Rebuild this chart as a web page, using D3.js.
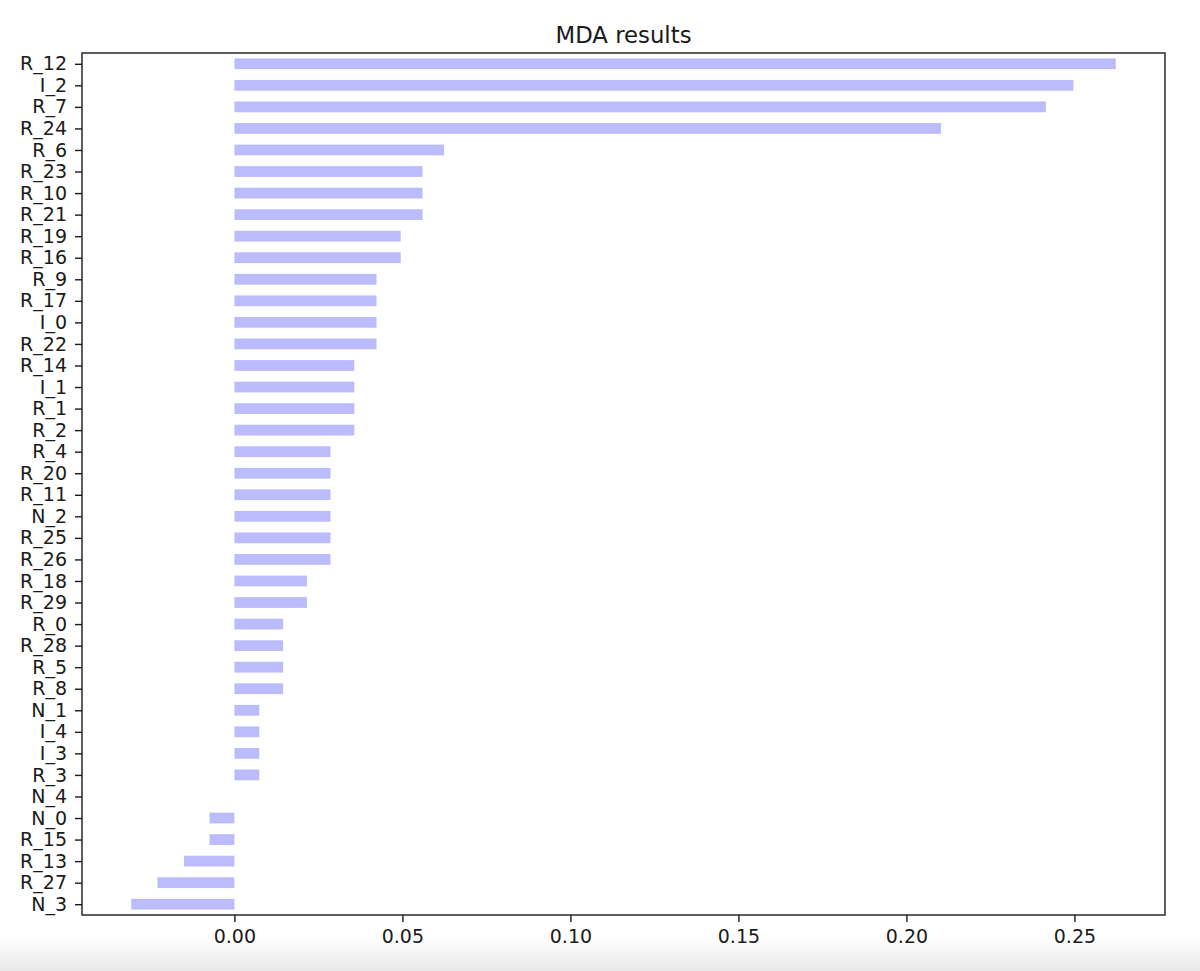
<!DOCTYPE html>
<html>
<head>
<meta charset="utf-8">
<script src="https://cdn.jsdelivr.net/npm/d3@7"></script>
<style>
  html, body { margin: 0; padding: 0; background: #fff; }
  svg { display: block; }
  text { font-family: "DejaVu Sans", sans-serif; fill: #1a1a1a; }
</style>
</head>
<body>
<svg id="chart" width="1200" height="971"></svg>
<script>
const categories = ["R_12","I_2","R_7","R_24","R_6","R_23","R_10","R_21","R_19","R_16",
  "R_9","R_17","I_0","R_22","R_14","I_1","R_1","R_2","R_4","R_20",
  "R_11","N_2","R_25","R_26","R_18","R_29","R_0","R_28","R_5","R_8",
  "N_1","I_4","I_3","R_3","N_4","N_0","R_15","R_13","R_27","N_3"];
const values = [0.2623,0.2497,0.2415,0.2103,0.0624,0.0560,0.0560,0.0560,0.0495,0.0495,
  0.0423,0.0423,0.0423,0.0423,0.0357,0.0357,0.0357,0.0357,0.0286,0.0286,
  0.0286,0.0286,0.0286,0.0286,0.0216,0.0216,0.0145,0.0145,0.0145,0.0145,
  0.0074,0.0074,0.0074,0.0074,0.0,-0.0074,-0.0074,-0.0150,-0.0229,-0.0307];
const xTicks = [0.00,0.05,0.10,0.15,0.20,0.25];
const title = "MDA results";

const svg = d3.select("#chart");
const mLeft = 82, mRight = 1165, mTop = 53, mBottom = 915;

// bottom screenshot fade
const defs = svg.append("defs");
const grad = defs.append("linearGradient").attr("id","fade").attr("x1",0).attr("y1",0).attr("x2",0).attr("y2",1);
grad.append("stop").attr("offset","0%").attr("stop-color","#ffffff");
grad.append("stop").attr("offset","100%").attr("stop-color","#e9e9e9");
svg.append("rect").attr("x",0).attr("y",936).attr("width",1200).attr("height",35).attr("fill","url(#fade)");

const vmin = d3.min(values), vmax = d3.max(values), pad = (vmax - vmin) * 0.05;
const x = d3.scaleLinear().domain([vmin - pad, vmax + pad]).range([mLeft, mRight]);
const y = d3.scaleLinear().domain([-0.5, categories.length - 0.5]).range([mTop, mBottom]);
const barH = y(0.25) - y(-0.25);

svg.append("g").selectAll("rect").data(values).join("rect")
  .attr("x", d => x(Math.min(0, d)))
  .attr("width", d => Math.abs(x(d) - x(0)))
  .attr("y", (d, i) => y(i) - barH / 2)
  .attr("height", barH)
  .attr("fill", "#bcbcfd");

// x axis
const xAxis = svg.append("g").attr("transform", `translate(0,${mBottom})`)
  .call(d3.axisBottom(x).tickValues(xTicks).tickFormat(d3.format(".2f")).tickSize(7).tickPadding(8));
xAxis.select(".domain").remove();
xAxis.selectAll("line").attr("stroke", "#1a1a1a").attr("stroke-width", 1.4);
xAxis.selectAll("text").attr("font-size", "19px").style("font-family", "DejaVu Sans, sans-serif").attr("fill", "#1a1a1a");

// y axis
const yAxis = svg.append("g").attr("transform", `translate(${mLeft},0)`)
  .call(d3.axisLeft(y).tickValues(d3.range(categories.length)).tickFormat(i => categories[i]).tickSize(7).tickPadding(8));
yAxis.select(".domain").remove();
yAxis.selectAll("line").attr("stroke", "#1a1a1a").attr("stroke-width", 1.4);
yAxis.selectAll("text").attr("font-size", "19px").style("font-family", "DejaVu Sans, sans-serif").attr("fill", "#1a1a1a");

// frame
svg.append("rect").attr("x", mLeft).attr("y", mTop).attr("width", mRight - mLeft).attr("height", mBottom - mTop)
  .attr("fill", "none").attr("stroke", "#1a1a1a").attr("stroke-width", 1.4);

svg.append("text").attr("x", (mLeft + mRight) / 2).attr("y", 42.5).attr("text-anchor", "middle")
  .attr("font-size", "22.8px").text(title);
</script>
</body>
</html>
